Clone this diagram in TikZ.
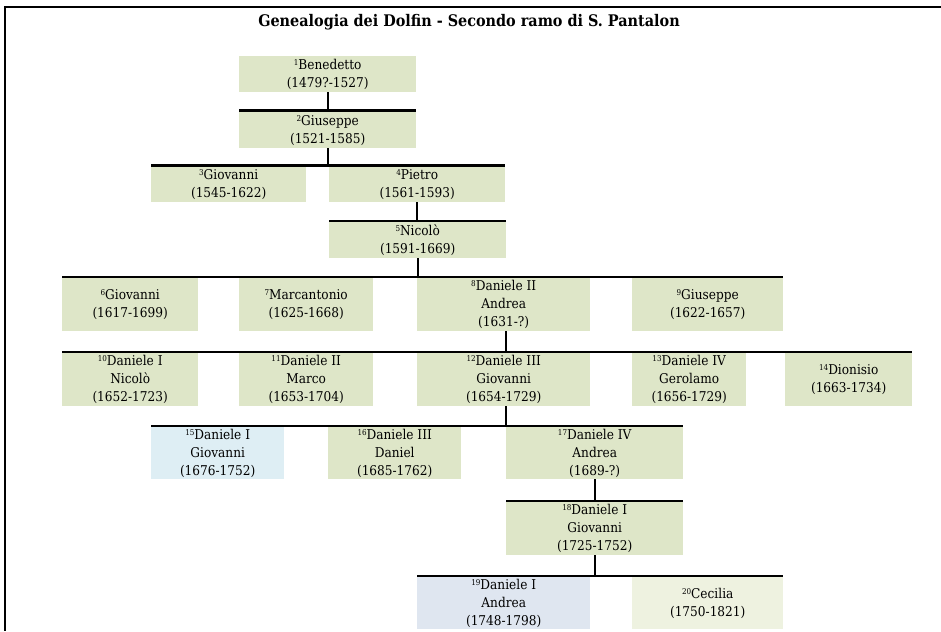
\documentclass[tikz,border=0pt]{standalone}
\usepackage{fontspec}
\setmainfont{DejaVu Serif Condensed}
\usepackage{tikz}
\usetikzlibrary{positioning}

\definecolor{verde}{HTML}{DEE6C8}
\definecolor{azzurro}{HTML}{DEEEF4}
\definecolor{grigioblu}{HTML}{DFE6F0}
\definecolor{chiaro}{HTML}{EEF2E0}
\newcommand{\nr}[1]{\raisebox{0.55ex}{\fontsize{8}{8}\selectfont #1}}

\tikzset{
  persona/.style={fill=verde, anchor=north west, inner sep=0pt, align=center,
    font=\fontsize{13.5}{18}\selectfont},
  ramo/.style={line width=2.5pt},
  figlio/.style={line width=2pt}
}

\begin{document}
\begin{tikzpicture}[x=1pt, y=-1pt]
  \useasboundingbox (0,0) rectangle (941,631);
  \draw[line width=2pt] (941,7) -- (5,7) -- (5,631);
  \node[font=\bfseries\fontsize{16}{18}\selectfont] (titolo) at (469,22) {Genealogia dei Dolfin - Secondo ramo di S. Pantalon};

  % generazioni
  \node[persona, minimum width=177pt, minimum height=36pt] (p1) at (239,56) {\nr{1}Benedetto\\(1479?-1527)};
  \node[persona, minimum width=177pt, minimum height=36pt] (p2) at (239,112) {\nr{2}Giuseppe\\(1521-1585)};
  \node[persona, minimum width=155pt, minimum height=35pt] (p3) at (151,167) {\nr{3}Giovanni\\(1545-1622)};
  \node[persona, minimum width=176pt, minimum height=35pt] (p4) at (329,167) {\nr{4}Pietro\\(1561-1593)};
  \node[persona, minimum width=177pt, minimum height=36pt] (p5) at (329,222) {\nr{5}Nicolò\\(1591-1669)};
  \node[persona, minimum width=136pt, minimum height=53pt] (p6) at (62,278) {\nr{6}Giovanni\\(1617-1699)};
  \node[persona, minimum width=134pt, minimum height=53pt] (p7) at (239,278) {\nr{7}Marcantonio\\(1625-1668)};
  \node[persona, minimum width=173pt, minimum height=53pt] (p8) at (417,278) {\nr{8}Daniele II\\Andrea\\(1631-?)};
  \node[persona, minimum width=151pt, minimum height=53pt] (p9) at (632,278) {\nr{9}Giuseppe\\(1622-1657)};
  \node[persona, minimum width=136pt, minimum height=53pt] (p10) at (62,353) {\nr{10}Daniele I\\Nicolò\\(1652-1723)};
  \node[persona, minimum width=134pt, minimum height=53pt] (p11) at (239,353) {\nr{11}Daniele II\\Marco\\(1653-1704)};
  \node[persona, minimum width=173pt, minimum height=53pt] (p12) at (417,353) {\nr{12}Daniele III\\Giovanni\\(1654-1729)};
  \node[persona, minimum width=114pt, minimum height=53pt] (p13) at (632,353) {\nr{13}Daniele IV\\Gerolamo\\(1656-1729)};
  \node[persona, minimum width=127pt, minimum height=53pt] (p14) at (785,353) {\nr{14}Dionisio\\(1663-1734)};
  \node[persona, fill=azzurro, minimum width=133pt, minimum height=52pt] (p15) at (151,427) {\nr{15}Daniele I\\Giovanni\\(1676-1752)};
  \node[persona, minimum width=133pt, minimum height=52pt] (p16) at (328,427) {\nr{16}Daniele III\\Daniel\\(1685-1762)};
  \node[persona, minimum width=177pt, minimum height=52pt] (p17) at (506,427) {\nr{17}Daniele IV\\Andrea\\(1689-?)};
  \node[persona, minimum width=177pt, minimum height=53pt] (p18) at (506,502) {\nr{18}Daniele I\\Giovanni\\(1725-1752)};
  \node[persona, fill=grigioblu, minimum width=173pt, minimum height=52pt] (p19) at (417,577) {\nr{19}Daniele I\\Andrea\\(1748-1798)};
  \node[persona, fill=chiaro, minimum width=151pt, minimum height=52pt] (p20) at (632,577) {\nr{20}Cecilia\\(1750-1821)};

  % rami: padre / primo figlio / ultimo figlio / spostamento
  \foreach \pa/\da/\fino/\dx in {p1/p2/p2/0, p2/p3/p4/0, p4/p5/p5/0, p5/p6/p9/0, p8/p10/p14/2.5, p12/p15/p17/2.5, p17/p18/p18/0, p18/p19/p20/0}
  {
    \draw[figlio] ([xshift=\dx pt]\pa.south) -- ([xshift=\dx pt, yshift=1pt]\pa.south |- \da.north);
    \draw[ramo] ([yshift=1.25pt]\da.north west) -- ([yshift=1.25pt]\fino.north east);
  }
\end{tikzpicture}
\end{document}
